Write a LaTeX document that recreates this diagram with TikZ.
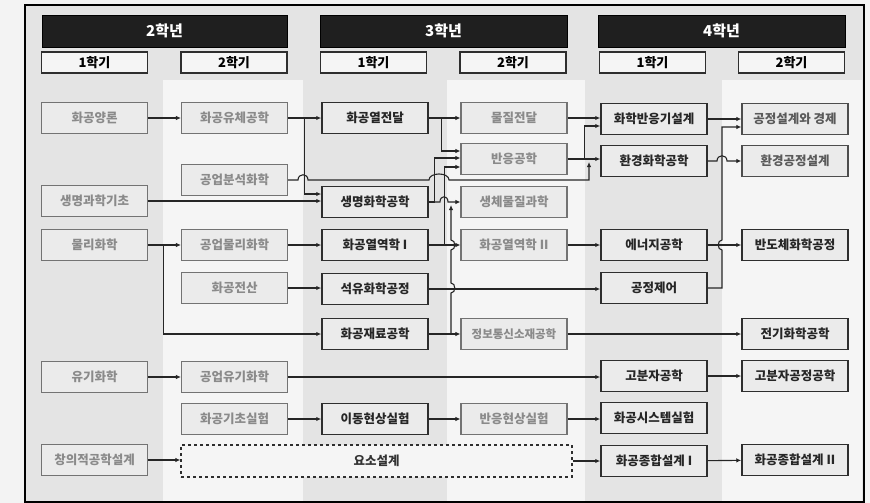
\documentclass[tikz,border=0pt]{standalone}
\usepackage{fontspec}
\setmainfont{Noto Sans CJK KR}
\usetikzlibrary{arrows.meta,calc}
\definecolor{pagegray}{HTML}{F3F3F3}
\definecolor{bandgray}{HTML}{E4E4E4}
\definecolor{bandlight}{HTML}{F5F5F5}
\definecolor{boxfill}{HTML}{EBEBEB}
\definecolor{dimtext}{HTML}{8A8A8A}
\definecolor{midtext}{HTML}{5A5A5A}
\definecolor{darkline}{HTML}{2E2E2E}
\tikzset{
  yearbar/.style={fill=black!88,draw=black,text=white,font=\fontsize{15}{16}\selectfont\bfseries,minimum width=246,minimum height=32,inner sep=0pt},
  semtab/.style={fill=white!96!black,draw=darkline,line width=1.3pt,font=\fontsize{13}{14}\selectfont\bfseries,minimum width=106,minimum height=21,inner sep=0pt},
  termbox/.style={draw=black!55,line width=1.1pt,fill=boxfill,text=dimtext,font=\fontsize{12.5}{13}\selectfont\bfseries,minimum width=106,minimum height=31,inner sep=0pt},
  midbox/.style={termbox,draw=darkline!85,line width=1.3pt,text=midtext},
  corebox/.style={termbox,draw=darkline,line width=1.5pt,text=black!85},
  designbox/.style={draw=darkline,dashed,line width=1.3pt,fill=bandlight,text=black!80,font=\fontsize{12.5}{13}\selectfont\bfseries,minimum width=391,minimum height=32,inner sep=0pt},
  link/.style={-{Latex[length=5pt,width=4.5pt]},line width=1.1pt,draw=black!85}
}
\begin{document}
\begin{tikzpicture}[x=1pt,y=-1pt]
\useasboundingbox (0,0) rectangle (870,503);
% background bands
\fill[pagegray] (0,0) rectangle (870,503);
\fill[bandgray] (25,5) rectangle (864,503);
\foreach \xa/\xb in {163/303,447/585,722/862}{\fill[bandlight] (\xa,80) rectangle (\xb,503);}
\draw[line width=1.6pt] (25,5) rectangle (864,502);

% year and semester headers
\node[yearbar,minimum width=245] (year2) at (164.5,31) {2학년};
\node[yearbar,minimum width=247] (year3) at (443.5,31) {3학년};
\node[yearbar,minimum width=247] (year4) at (721.5,31) {4학년};
\foreach \n/\x/\t in {s21/94.5/1학기,s22/234/2학기,s31/373.5/1학기,s32/513/2학기,s41/652.5/1학기,s42/791.5/2학기}{
  \node[semtab] (\n) at (\x,62.5) {\t};}

% 2학년 1학기
\node[termbox] (yangron) at (94.5,118) {화공양론};
\node[termbox] (lifebase) at (94.5,201) {생명과학기초};
\node[termbox] (physchem) at (94.5,245) {물리화학};
\node[termbox] (organic) at (94.5,377) {유기화학};
\node[termbox] (creative) at (94.5,460) {창의적공학설계};
% 2학년 2학기
\node[termbox] (fluid) at (234.5,118) {화공유체공학};
\node[termbox] (anal) at (234.5,180) {공업분석화학};
\node[termbox] (indphys) at (234.5,245) {공업물리화학};
\node[termbox] (comput) at (234.5,288) {화공전산};
\node[termbox] (indorg) at (234.5,377) {공업유기화학};
\node[termbox] (basiclab) at (234.5,419) {화공기초실험};
% 3학년 1학기
\node[corebox] (heat) at (375,118) {화공열전달};
\node[corebox] (lifeeng) at (375,202) {생명화학공학};
\node[corebox] (thermo1) at (375,245) {화공열역학 I};
\node[corebox] (petro) at (375,289) {석유화학공정};
\node[corebox] (materials) at (375,334) {화공재료공학};
\node[corebox] (translab) at (375,419) {이동현상실험};
% 3학년 2학기
\node[termbox] (mass) at (514,118) {물질전달};
\node[termbox] (reaction) at (514,159) {반응공학};
\node[termbox] (biomat) at (514,202) {생체물질과학};
\node[termbox] (thermo2) at (514,245) {화공열역학 II};
\node[termbox,font=\fontsize{11.5}{12}\selectfont\bfseries] (ict) at (514,334) {정보통신소재공학};
\node[termbox] (reaclab) at (514,419) {반응현상실험};
% 4학년 1학기
\node[corebox] (reactor) at (654,119) {화학반응기설계};
\node[corebox] (envchem) at (654,161) {환경화학공학};
\node[corebox] (energy) at (654,245) {에너지공학};
\node[corebox] (control) at (654,288) {공정제어};
\node[corebox] (polymer) at (654,376) {고분자공학};
\node[corebox] (syslab) at (654,418) {화공시스템실험};
\node[corebox] (capstone1) at (654,461) {화공종합설계 I};
% 4학년 2학기
\node[midbox] (design) at (795,119) {공정설계와 경제};
\node[midbox] (envdesign) at (795,161) {환경공정설계};
\node[corebox] (semicon) at (795,245) {반도체화학공정};
\node[corebox] (electro) at (795,334) {전기화학공학};
\node[corebox] (polyproc) at (795,376) {고분자공정공학};
\node[corebox] (capstone2) at (795,460) {화공종합설계 II};
% 요소설계
\node[designbox] (element) at (376.5,461) {요소설계};

% 2학년 links
\draw[link] (yangron) -- (fluid);
\draw[link] (lifebase.east) -- (lifebase.east -| lifeeng.west);
\draw[link] (physchem) -- (indphys);
\draw[link] (physchem.east) -- ++(15,0) |- (materials.west);
\draw[link] (organic) -- (indorg);
\draw[link] (creative.east) -- (creative.east -| element.west);
\draw[link] (fluid) -- (heat);
\draw[link] (fluid.east) -- ++(16,0) |- ($(lifeeng.west)+(0,-8)$);
\draw[link] (anal.east) -- (298,180) .. controls (298,173) and (308,173) .. (308,180)
  -- (429,180) .. controls (429,172) and (449,172) .. (449,180) -- (589,180) -- (589,162);
\draw[link] (indphys) -- (thermo1);
\draw[link] (comput.east) -- (comput.east -| petro.west);
\draw[link] (indorg.east) -- (indorg.east -| polymer.west);
\draw[link] (basiclab) -- (translab);

% 3학년 links
\draw[link] (heat) -- (mass);
\draw[link] (heat.east) -- ++(13,0) |- ($(reaction.west)+(0,-8)$);
\draw[link] (lifeeng.east) -- ++(6,0) |- ($(reaction.west)+(0,-1)$);
\draw[link] (thermo1.east) -- ++(16,0) |- ($(reaction.west)+(0,8)$);
\draw[link] (lifeeng.east) -- (440,202) .. controls (440,195) and (448,195) .. (448,202) -- (biomat.west);
\draw[link] (materials.east) -- (451,334) -- (451,293) .. controls (456,293) and (456,283) .. (451,283)
  -- (451,250) .. controls (456,250) and (456,240) .. (451,240) -- (451,205);
\draw[link] (thermo1) -- (thermo2);
\draw[link] (petro.east) -- (petro.east -| control.west);
\draw[link] (materials) -- (ict);
\draw[link] (translab) -- (reaclab);
\draw[link] (mass.east) -- (mass.east -| reactor.west);
\draw[link] (reaction.east) -- ++(17,0) |- ($(reactor.west)+(0,7)$);
\draw[link] (reaction.east) -- (reaction.east -| envchem.west);
\draw[link] (thermo2) -- (energy);
\draw[link] (ict.east) -- (ict.east -| electro.west);
\draw[link] (reaclab.east) -- (reaclab.east -| syslab.west);
\draw[link] (element) -- (capstone1);

% 4학년 links
\draw[link] (reactor) -- (design);
\draw[link] (envchem.east) -- (717,161) .. controls (717,154) and (727,154) .. (727,161) -- (envdesign.west);
\draw[link] (control.east) -- (722,288) -- (722,250) .. controls (717,250) and (717,240) .. (722,240)
  -- (722,127) -- ($(design.west)+(0,8)$);
\draw[link] (energy) -- (semicon);
\draw[link] (polymer) -- (polyproc);
\draw[link] (capstone1) -- (capstone2);
\end{tikzpicture}
\end{document}
